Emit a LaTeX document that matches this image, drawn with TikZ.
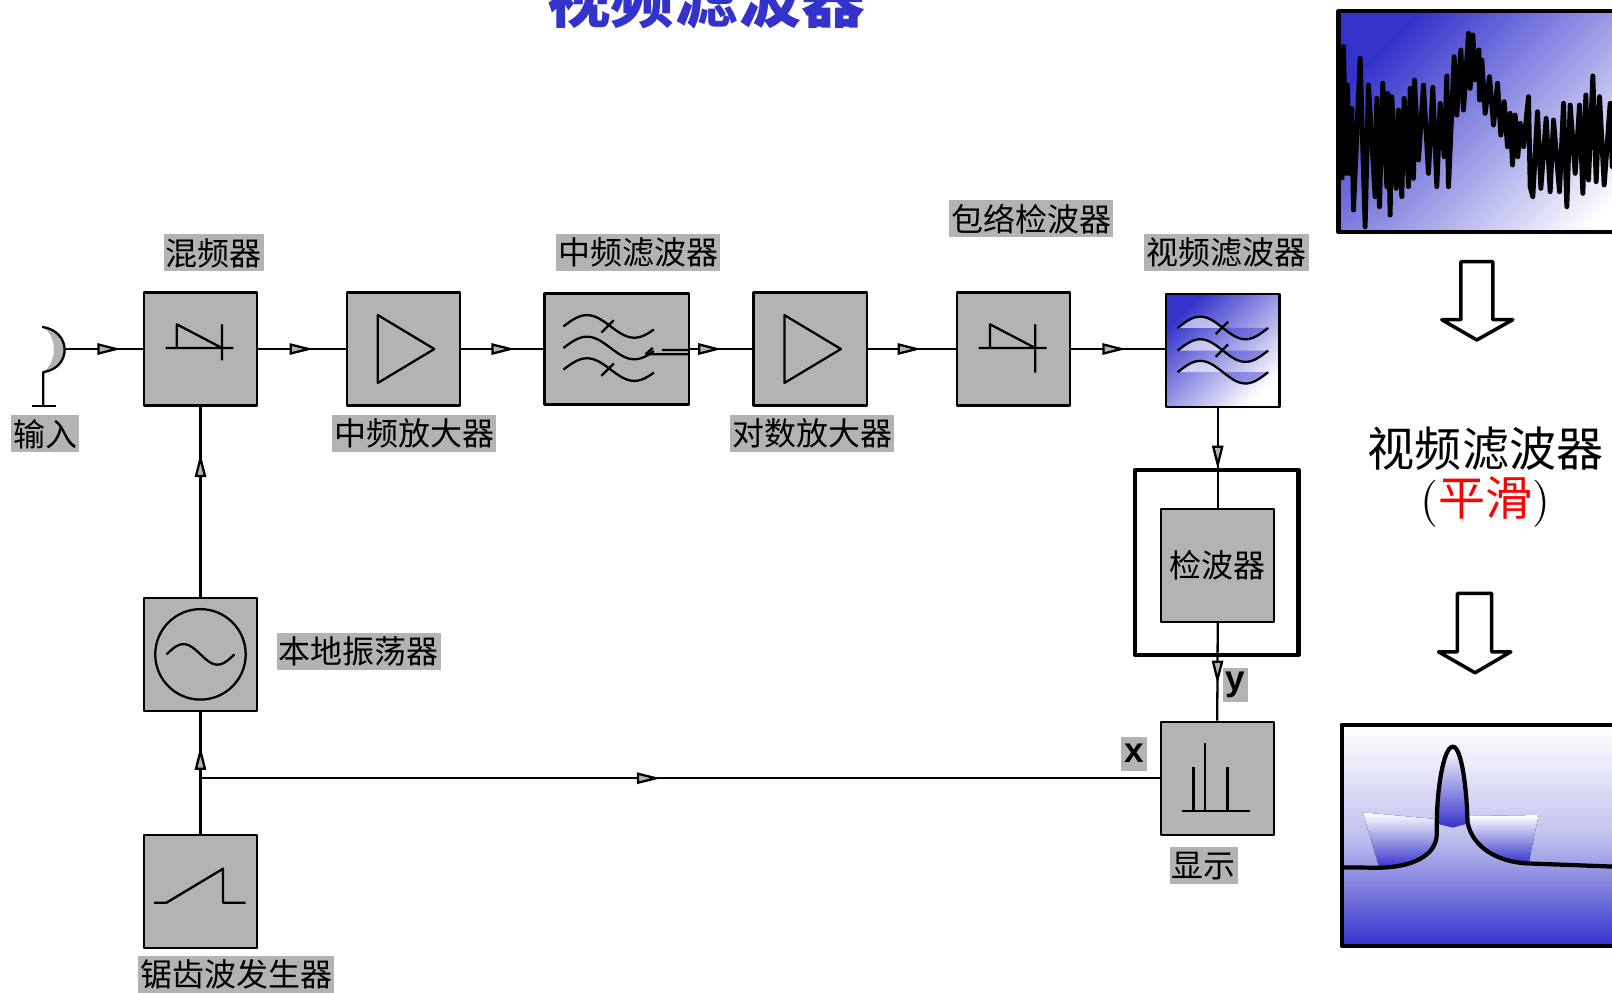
\documentclass[tikz,border=0pt]{standalone}
\usepackage{fontspec}
\newfontfamily\cjk{Noto Sans CJK SC}
\newfontfamily\arial{Liberation Sans}
\usepackage{xcolor}
\definecolor{boxgray}{RGB}{179,179,179}
\definecolor{vblue}{RGB}{51,51,204}
\usetikzlibrary{arrows.meta,decorations.markings}

\begin{document}
\begin{tikzpicture}[x=0.010281cm,y=-0.010281cm,line width=0.65pt,line join=round]
	\tikzstyle{blk}=[draw,fill=boxgray,minimum width=110*0.010281cm,minimum height=110*0.010281cm,inner sep=0pt];
	\tikzstyle{lbl}=[fill=boxgray,inner xsep=0.6pt,inner ysep=0pt,minimum height=36*0.010281cm,font=\cjk\fontsize{9.1}{9.1}\selectfont];
	\tikzstyle{xy}=[fill=boxgray,inner xsep=0.8pt,inner ysep=0pt,minimum height=33*0.010281cm,font=\arial\bfseries\fontsize{10}{10}\selectfont];
	\tikzset{tri/.tip={Triangle[length=6.8pt,width=3.2pt,fill=boxgray]},
		flow/.style={postaction={decorate},decoration={markings,mark=at position #1 with {\arrow{tri}}}}}
	%% Page
	\useasboundingbox (0,0) rectangle (1568,965);
	\clip (0,0) rectangle (1568,965);
	%% Title
	\node[anchor=base,text=vblue,font=\cjk\bfseries\fontsize{18.1}{18.1}\selectfont] (title) at (687,22) {视频滤波器};
	%% Blocks
	\node[blk] (mix) at (195,339.5) {};
	\node[blk] (ifamp) at (392.5,339.5) {};
	\node[blk,minimum width=141*0.010281cm,minimum height=108*0.010281cm] (iffilt) at (600,339.5) {};
	\node[blk] (logamp) at (788,339.5) {};
	\node[blk] (envdet) at (986,339.5) {};
	\node[draw,top color=vblue,bottom color=white,shading angle=45,minimum size=110*0.010281cm,inner sep=0pt] (vidfilt) at (1189.5,341) {};
	\node[draw,line width=1.2pt,minimum width=159*0.010281cm,minimum height=180*0.010281cm] (frm) at (1183.5,547) {};
	\node[blk,font=\cjk\fontsize{9.1}{9.1}\selectfont] (det) at (1184.5,550) {检波器};
	\node[blk] (disp) at (1184,757) {};
	\node[blk] (lo) at (195,636.5) {};
	\node[blk] (saw) at (195,867) {};
	%% Symbols
	\foreach \b/\e in {mix/11,envdet/23}
		\draw[shift={(\b.center)}] (-34,-1) -- (32,-1) (-23,-1) -- (-23,-24) -- (21,-1) (21,-24) -- (21,\e);
	\foreach \b in {ifamp,logamp}
		\draw[shift={(\b.center)}] (-25,-33) -- (30,0) -- (-25,33) -- cycle;
	\begin{scope}[shift={(iffilt.center)}]
		\foreach \yy in {-22,-1,20}
			\draw plot[domain=-52:36,samples=40,smooth] (\x,{\yy-11*sin((\x+52)/92*360)});
		\draw (-15,-16) -- (-3,-28) (-15,26) -- (-3,14);
		\draw (28,5) -- (35,-1) (28,5) -- (70.5,5) (44,1) -- (70.5,1);
	\end{scope}
	\begin{scope}[shift={(vidfilt.center)}]
		\foreach \yy in {-22,0,21} {
			\fill[white,opacity=0.6] plot[domain=-44:0,samples=20,smooth] (\x,{\yy-11*sin((\x+44)/88*360)}) -- cycle;
			\fill[vblue,opacity=0.45] plot[domain=0:44,samples=20,smooth] (\x,{\yy-11*sin((\x+44)/88*360)}) -- cycle;
			\draw plot[domain=-44:44,samples=40,smooth] (\x,{\yy-11*sin((\x+44)/88*360)});
		}
		\draw (-7,-16) -- (5,-28) (-7,6) -- (5,-6);
	\end{scope}
	\draw (lo.center) circle[radius=44];
	\draw[shift={(lo.center)}] plot[domain=-33:33,samples=40,smooth] (\x,{10*sin(\x/33*180)});
	\draw[shift={(saw.center)}] (-45,11) -- (-33,11) -- (22,-22) -- (22,11) -- (44,11);
	\draw[shift={(disp.center)}] (-34,32) -- (32,32) (-23,32) -- (-23,-11) (-12,32) -- (-12,-34) (10,32) -- (10,-11);
	%% Antenna
	\coordinate (ant) at (64,339.5);
	\fill[boxgray] (41,318) .. controls (70,322) and (70,358) .. (42,362) .. controls (56,352) and (56,326) .. (41,318) -- cycle;
	\draw (41,318) .. controls (70,322) and (70,358) .. (42,362) -- (42,395);
	\draw (31,395) -- (54,395);
	%% Connectors
	\draw[flow=0.72] (ant) -- (mix.west);
	\draw[flow=0.63] (mix.east) -- (ifamp.west);
	\draw[flow=0.66] (ifamp.east) -- (iffilt.west);
	\draw[flow=0.51] (iffilt.east) -- (logamp.west);
	\draw[flow=0.61] (logamp.east) -- (envdet.west);
	\draw[flow=0.585] (envdet.east) -- (envdet.east -| vidfilt.west);
	\draw[flow=0.616] (det.north |- vidfilt.south) -- (det.north);
	\draw[flow=0.63] (det.south) -- (disp.north);
	\draw[flow=0.755] (lo.north) -- (mix.south);
	\draw[flow=0.72] (saw.north) -- (lo.south);
	\coordinate (jct) at (saw.north |- disp.west);
	\draw[flow=0.48] (jct) -- (disp.west);
	%% Labels
	\node[lbl] (lmix) at (208,246) {混频器};
	\node[lbl] (liffilt) at (621,246) {中频滤波器};
	\node[lbl] (lenvdet) at (1003,213) {包络检波器};
	\node[lbl] (lvidfilt) at (1193,246) {视频滤波器};
	\node[lbl] (lin) at (44,422) {输入};
	\node[lbl] (lifamp) at (403,422) {中频放大器};
	\node[lbl] (llogamp) at (790,422) {对数放大器};
	\node[lbl] (llo) at (349,634) {本地振荡器};
	\node[lbl] (lsaw) at (230,948) {锯齿波发生器};
	\node[lbl] (ldisp) at (1171,842) {显示};
	\node[xy] (lx) at (1103,733) {x};
	\node[xy] (ly) at (1202,666) {y};
	%% Raw trace
	\fill[top color=vblue,bottom color=white,shading angle=45] (1302,11) rectangle (1620,226);
	\begin{scope}[shift={(1254.9,0)},scale=0.3243]
		\draw[line width=1.4pt] (155,540) -- (160,140) -- (168,520) -- (172,255) -- (178,520) -- (185,325) -- (190,630) -- (210,175) -- (225,680) -- (235,255) -- (255,590) -- (260,295) -- (268,620) -- (278,250) -- (290,560) -- (293,280) -- (300,645) -- (305,290) -- (318,565) -- (325,330) -- (335,590) -- (342,295) -- (355,560) -- (360,265) -- (370,535) -- (373,240) -- (385,480) -- (400,255) -- (415,520) -- (428,262) -- (440,560) -- (450,310) -- (462,470) -- (470,228) -- (475,560) -- (492,170) -- (500,345) -- (512,150) -- (520,330) -- (535,100) -- (540,265) -- (548,105) -- (555,240) -- (566,150) -- (568,300) -- (575,180) -- (585,340) -- (598,230) -- (610,375) -- (622,250) -- (632,405) -- (642,305) -- (652,440) -- (660,340) -- (667,495) -- (675,345) -- (683,470) -- (690,370) -- (700,440) -- (715,290) -- (720,560) -- (728,590) -- (742,335) -- (752,565) -- (768,355) -- (780,575) -- (790,360) -- (808,575) -- (820,310) -- (830,620) -- (840,315) -- (855,520) -- (868,315) -- (878,580) -- (887,285) -- (895,540) -- (908,228) -- (918,545) -- (928,290) -- (942,555) -- (960,310) -- (966,500) -- (980,300);
	\end{scope}
	\draw[line width=1.2pt] (1302,11) rectangle (1620,226);
	%% Block arrows
	\draw[line width=1pt] (1421,254.5) -- (1452,254.5) -- (1452,311) -- (1471.5,311) -- (1436.5,330.7) -- (1402.4,311) -- (1421,311) -- cycle;
	\draw[line width=1pt] (1417.6,577.2) -- (1451,577.2) -- (1451,634) -- (1469.6,634) -- (1434.8,654.4) -- (1399.2,634) -- (1417.6,634) -- cycle;
	%% Caption
	\node[font=\cjk\fontsize{13.4}{13.4}\selectfont] (vf) at (1445,436) {视频滤波器};
	\node[font=\fontsize{13.4}{13.4}\selectfont] (sm) at (1445,488) {(\textcolor{red}{\cjk 平滑})};
	%% Smoothed trace
	\fill[top color=white,bottom color=vblue,middle color=vblue!30] (1305,705) rectangle (1620,920);
	\begin{scope}[shift={(1254.9,671.2)},scale=0.3243]
		\fill[top color=white,bottom color=vblue] (218,367) -- (437,387) -- (442,440) .. controls (425,500) and (360,530) .. (268,533) -- cycle;
		\fill[top color=white,bottom color=vblue] (535,378) -- (745,375) -- (715,520) .. controls (620,510) and (550,460) .. (535,405) -- cycle;
		\fill[top color=white,bottom color=vblue] (440,400) .. controls (440,300) and (460,170) .. (488,170) .. controls (515,170) and (530,300) .. (532,400) -- (488,412) -- cycle;
		\draw[line width=1.2pt] (160,532) -- (265,533) .. controls (360,532) and (440,500) .. (440,430) -- (440,400) .. controls (440,300) and (460,170) .. (488,170) .. controls (515,170) and (530,300) .. (532,395) .. controls (545,470) and (620,515) .. (710,520) -- (980,530);
	\end{scope}
	\draw[line width=1.2pt] (1305,705) rectangle (1620,920);
\end{tikzpicture}
\end{document}
